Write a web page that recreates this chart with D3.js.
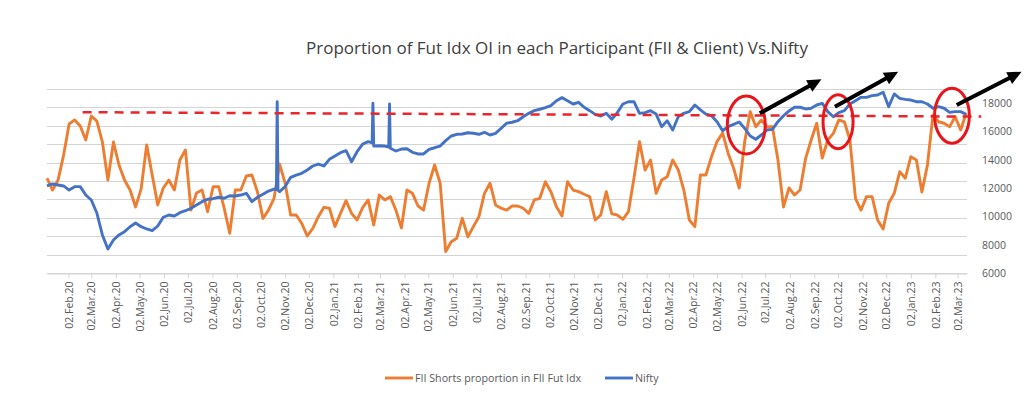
<!DOCTYPE html>
<html>
<head>
<meta charset="utf-8">
<script src="https://cdn.jsdelivr.net/npm/d3@7/dist/d3.min.js"></script>
<style>
  body { margin: 0; background: #fff; }
  text { font-family: "Open Sans", "Liberation Sans", sans-serif; }
</style>
</head>
<body>
<div id="chart"></div>
<script>
// weekly observations (Mondays)
var weeks = [
  "2020-01-06","2020-01-13","2020-01-20","2020-01-27","2020-02-03","2020-02-10","2020-02-17","2020-02-24","2020-03-02","2020-03-09","2020-03-16","2020-03-23","2020-03-30",
  "2020-04-06","2020-04-13","2020-04-20","2020-04-27","2020-05-04","2020-05-11","2020-05-18","2020-05-25","2020-06-01","2020-06-08","2020-06-15","2020-06-22","2020-06-29",
  "2020-07-06","2020-07-13","2020-07-20","2020-07-27","2020-08-03","2020-08-10","2020-08-17","2020-08-24","2020-08-31","2020-09-07","2020-09-14","2020-09-21","2020-09-28",
  "2020-10-05","2020-10-12","2020-10-19","2020-10-26","2020-11-02","2020-11-09","2020-11-16","2020-11-23","2020-11-30","2020-12-07","2020-12-14","2020-12-21","2020-12-28",
  "2021-01-04","2021-01-11","2021-01-18","2021-01-25","2021-02-01","2021-02-08","2021-02-15","2021-02-22","2021-03-01","2021-03-08","2021-03-15","2021-03-22","2021-03-29",
  "2021-04-05","2021-04-12","2021-04-19","2021-04-26","2021-05-03","2021-05-10","2021-05-17","2021-05-24","2021-05-31","2021-06-07","2021-06-14","2021-06-21","2021-06-28",
  "2021-07-05","2021-07-12","2021-07-19","2021-07-26","2021-08-02","2021-08-09","2021-08-16","2021-08-23","2021-08-30","2021-09-06","2021-09-13","2021-09-20","2021-09-27",
  "2021-10-04","2021-10-11","2021-10-18","2021-10-25","2021-11-01","2021-11-08","2021-11-15","2021-11-22","2021-11-29","2021-12-06","2021-12-13","2021-12-20","2021-12-27",
  "2022-01-03","2022-01-10","2022-01-17","2022-01-24","2022-01-31","2022-02-07","2022-02-14","2022-02-21","2022-02-28","2022-03-07","2022-03-14","2022-03-21","2022-03-28",
  "2022-04-04","2022-04-11","2022-04-18","2022-04-25","2022-05-02","2022-05-09","2022-05-16","2022-05-23","2022-05-30","2022-06-06","2022-06-13","2022-06-20","2022-06-27",
  "2022-07-04","2022-07-11","2022-07-18","2022-07-25","2022-08-01","2022-08-08","2022-08-15","2022-08-22","2022-08-29","2022-09-05","2022-09-12","2022-09-19","2022-09-26",
  "2022-10-03","2022-10-10","2022-10-17","2022-10-24","2022-10-31","2022-11-07","2022-11-14","2022-11-21","2022-11-28","2022-12-05","2022-12-12","2022-12-19","2022-12-26",
  "2023-01-02","2023-01-09","2023-01-16","2023-01-23","2023-01-30","2023-02-06","2023-02-13","2023-02-20","2023-02-27","2023-03-06","2023-03-13"
];

// Nifty close, right axis
var niftyWeekly = [
  12150,12290,12220,12150,11860,12100,12100,11510,11160,10240,8690,7700,8330,
  8690,8920,9270,9530,9270,9110,8990,9320,9940,10100,10030,10260,10400,
  10570,10800,11040,11210,11250,11350,11280,11460,11440,11510,11630,11040,11350,
  11560,11790,11930,11740,12100,12760,12920,13040,13280,13560,13700,13560,14030,
  14270,14500,14640,13860,14570,15110,15280,14970,14990,14970,14810,14620,14760,
  14780,14530,14410,14410,14740,14850,14970,15350,15680,15800,15820,15910,15870,
  15800,15940,15750,15870,16220,16580,16650,16760,17040,17280,17470,17570,17680,
  17820,18170,18390,18170,17940,18060,17710,17470,17210,17090,17280,16860,17330,
  17940,18100,18100,17280,17330,17470,17230,16340,16760,16100,17040,17280,17400,
  17870,17520,17230,17110,16690,16050,16340,16500,16670,16220,15680,15450,15750,
  16100,16150,16690,17110,17450,17710,17710,17590,17640,17870,17990,17400,17040,
  17330,17470,17940,18170,18410,18410,18530,18580,18770,17750,18650,18340,18270,
  18220,18100,18100,17940,17640,17750,17640,17350,17400,17400,17210
];

// one-day spikes in the Nifty series
var niftySpikes = [
  ["2020-10-22", 11900], ["2020-10-23", 18100], ["2020-10-24", 11850],
  ["2021-02-20", 15200], ["2021-02-21", 18000],
  ["2021-03-13", 14900], ["2021-03-14", 17950]
];

// FII shorts proportion in FII index futures (%), left (hidden) axis
var fiiShortPct = [
  51.6,45.1,50.5,64.1,81.0,83.2,79.9,72.3,85.3,82.6,71.2,50.5,71.2,
  58.7,50.5,45.1,35.9,45.7,69.6,53.3,37.0,46.2,50.5,45.1,61.4,66.9,
  34.2,43.5,45.1,33.3,46.9,46.9,35.2,21.6,45.1,45.1,52.7,53.3,44.2,
  29.7,34.2,40.6,59.2,48.8,31.5,31.5,27.0,20.1,24.3,30.6,35.7,35.2,
  25.2,32.4,39.3,32.4,28.8,35.5,39.7,26.1,42.4,39.7,41.5,34.2,24.5,
  45.1,43.3,36.4,34.2,48.8,58.7,48.8,11.6,17.0,18.9,29.7,19.7,25.2,
  30.6,43.3,48.8,37.0,35.2,34.2,36.4,36.4,35.2,32.4,39.7,40.6,49.6,
  44.2,36.0,31.0,49.6,45.1,44.2,42.8,41.5,28.8,31.5,44.2,32.1,31.5,
  29.2,33.3,51.5,71.4,56.0,61.4,43.3,50.5,52.3,61.4,56.0,45.1,28.8,
  25.2,53.3,53.3,63.2,71.4,76.1,65.1,56.9,46.2,71.4,87.7,79.5,83.2,
  79.5,79.5,61.4,35.9,46.2,42.4,45.1,62.3,72.3,81.4,62.5,72.3,75.9,
  83.2,82.2,72.3,40.6,34.2,41.5,41.5,28.8,23.9,37.9,43.3,55.1,51.5,
  63.2,61.4,44.0,58.7,85.9,82.2,81.4,79.5,84.9,77.7,86.8
];

var tickLabels = [
  "02.Feb.20","02.Mar.20","02.Apr.20","02.May.20","02.Jun.20","02.Jul.20","02.Aug.20","02.Sep.20","02.Oct.20","02.Nov.20","02.Dec.20",
  "02.Jan.21","02.Feb.21","02.Mar.21","02.Apr.21","02.May.21","02.Jun.21","02.Jul.21","02.Aug.21","02.Sep.21","02.Oct.21","02.Nov.21","02.Dec.21",
  "02.Jan.22","02.Feb.22","02.Mar.22","02.Apr.22","02.May.22","02.Jun.22","02.Jul.22","02.Aug.22","02.Sep.22","02.Oct.22","02.Nov.22","02.Dec.22",
  "02.Jan.23","02.Feb.23","02.Mar.23"
];
var niftyTicks = [6000, 8000, 10000, 12000, 14000, 16000, 18000];

// annotations, in data space
var levelLine = [["2020-02-20", 17360], ["2023-04-01", 17050]];
var circleMarks = [
  { date: "2022-06-08", value: 16460, days: 24, span: 2050 },
  { date: "2022-10-02", value: 16690, days: 19, span: 1910 },
  { date: "2023-02-23", value: 17110, days: 22, span: 1940 }
];
var arrowMarks = [
  { from: ["2022-06-25", 17280], to: ["2022-09-11", 19690] },
  { from: ["2022-09-28", 17750], to: ["2022-12-17", 20220] },
  { from: ["2023-03-01", 17870], to: ["2023-05-22", 20220] }
];

var legendItems = [
  { name: "FII Shorts proportion in FII Fut Idx", color: "#ED7D31" },
  { name: "Nifty", color: "#4472C4" }
];

var width = 1024, height = 397;
var plot = { left: 47, right: 967, top: 89, bottom: 273 };

var parse = d3.timeParse("%Y-%m-%d");
var parseTick = d3.timeParse("%d.%b.%y");

var x = d3.scaleTime()
    .domain([parse("2020-01-06"), parse("2023-03-14")])
    .range([plot.left, plot.right]);
var yNifty = d3.scaleLinear().domain([6000, 19000]).range([plot.bottom, plot.top]);
var yShare = d3.scaleLinear().domain([0, 100]).range([plot.bottom, plot.top]);

var svg = d3.select("#chart").append("svg")
    .attr("width", width)
    .attr("height", height)
    .style("display", "block")
    .style("background", "#fff");

// gridlines (primary axis)
svg.append("g")
    .selectAll("line")
    .data(yShare.ticks(10))
  .enter().append("line")
    .attr("x1", plot.left)
    .attr("x2", plot.right)
    .attr("y1", function (d) { return Math.round(yShare(d)) + 0.5; })
    .attr("y2", function (d) { return Math.round(yShare(d)) + 0.5; })
    .attr("stroke", "#d4d4d4")
    .attr("stroke-width", 1);

// x axis
var xAxis = svg.append("g")
    .attr("transform", "translate(0," + (plot.bottom + 0.5) + ")")
    .call(d3.axisBottom(x)
        .tickValues(tickLabels.map(function (t) { return parseTick(t); }))
        .tickSize(5)
        .tickSizeOuter(0)
        .tickFormat(d3.timeFormat("%d.%b.%y")));
xAxis.select(".domain").attr("stroke", "#d4d4d4");
xAxis.selectAll(".tick line").attr("stroke", "#d4d4d4");
xAxis.selectAll("text")
    .attr("transform", "rotate(-90)")
    .attr("x", -8)
    .attr("y", 0)
    .attr("dy", "0.35em")
    .style("text-anchor", "end")
    .attr("fill", "#595959")
    .style("font-size", "10.5px");

// right axis
var yAxis = svg.append("g")
    .attr("transform", "translate(" + plot.right + ",0)")
    .call(d3.axisRight(yNifty)
        .tickValues(niftyTicks)
        .tickFormat(d3.format("d"))
        .tickSize(0)
        .tickPadding(15));
yAxis.select(".domain").remove();
yAxis.selectAll("text")
    .attr("fill", "#595959")
    .style("font-size", "10.5px");

// series
var fiiLine = d3.line()
    .x(function (d) { return x(d[0]); })
    .y(function (d) { return yShare(d[1]); });
var niftyLine = d3.line()
    .x(function (d) { return x(d[0]); })
    .y(function (d) { return yNifty(d[1]); });

var fiiData = weeks.map(function (w, i) { return [parse(w), fiiShortPct[i]]; });
var niftyData = weeks.map(function (w, i) { return [parse(w), niftyWeekly[i]]; })
    .concat(niftySpikes.map(function (s) { return [parse(s[0]), s[1]]; }))
    .sort(function (a, b) { return a[0] - b[0]; });

svg.append("path")
    .datum(fiiData)
    .attr("d", fiiLine)
    .attr("fill", "none")
    .attr("stroke", "#ED7D31")
    .attr("stroke-width", 2.9)
    .attr("stroke-linejoin", "round");

svg.append("path")
    .datum(niftyData)
    .attr("d", niftyLine)
    .attr("fill", "none")
    .attr("stroke", "#4472C4")
    .attr("stroke-width", 2.9)
    .attr("stroke-linejoin", "round");

// dashed level
svg.append("path")
    .datum(levelLine.map(function (p) { return [parse(p[0]), p[1]]; }))
    .attr("d", niftyLine)
    .attr("fill", "none")
    .attr("stroke", "#E8262B")
    .attr("stroke-width", 2.5)
    .attr("stroke-dasharray", "9,7");

// red circles
svg.append("g")
    .selectAll("ellipse")
    .data(circleMarks)
  .enter().append("ellipse")
    .attr("cx", function (d) { return x(parse(d.date)); })
    .attr("cy", function (d) { return yNifty(d.value); })
    .attr("rx", function (d) { return x(d3.timeDay.offset(parse(d.date), d.days)) - x(parse(d.date)); })
    .attr("ry", function (d) { return yNifty(d.value - d.span) - yNifty(d.value); })
    .attr("fill", "none")
    .attr("stroke", "#E8161B")
    .attr("stroke-width", 3);

// black arrows
arrowMarks.forEach(function (a) {
    var x0 = x(parse(a.from[0])), y0 = yNifty(a.from[1]);
    var x1 = x(parse(a.to[0])), y1 = yNifty(a.to[1]);
    var len = Math.sqrt((x1 - x0) * (x1 - x0) + (y1 - y0) * (y1 - y0));
    var ux = (x1 - x0) / len, uy = (y1 - y0) / len;
    var head = 14, half = 6.5;
    var bx = x1 - ux * head, by = y1 - uy * head;
    svg.append("line")
        .attr("x1", x0).attr("y1", y0)
        .attr("x2", bx + ux * 2).attr("y2", by + uy * 2)
        .attr("stroke", "#000")
        .attr("stroke-width", 4);
    svg.append("path")
        .attr("d", "M" + x1 + "," + y1 +
            "L" + (bx - uy * half) + "," + (by + ux * half) +
            "L" + (bx + uy * half) + "," + (by - ux * half) + "Z")
        .attr("fill", "#000");
});

// title
svg.append("text")
    .attr("x", 557)
    .attr("y", 54)
    .attr("text-anchor", "middle")
    .attr("fill", "#404040")
    .style("font-size", "17px")
    .text("Proportion of Fut Idx OI in each Participant (FII & Client) Vs.Nifty");

// legend
var legend = svg.selectAll(".legend")
    .data(legendItems)
  .enter().append("g")
    .attr("class", "legend")
    .attr("transform", function (d, i) { return "translate(" + (i === 0 ? 385 : 605) + ",378)"; });

legend.append("line")
    .attr("x1", 0)
    .attr("x2", 28)
    .attr("stroke", function (d) { return d.color; })
    .attr("stroke-width", 2.9);

legend.append("text")
    .attr("x", 30)
    .attr("dy", "0.35em")
    .attr("fill", "#595959")
    .style("font-size", "10.7px")
    .text(function (d) { return d.name; });
</script>
</body>
</html>
